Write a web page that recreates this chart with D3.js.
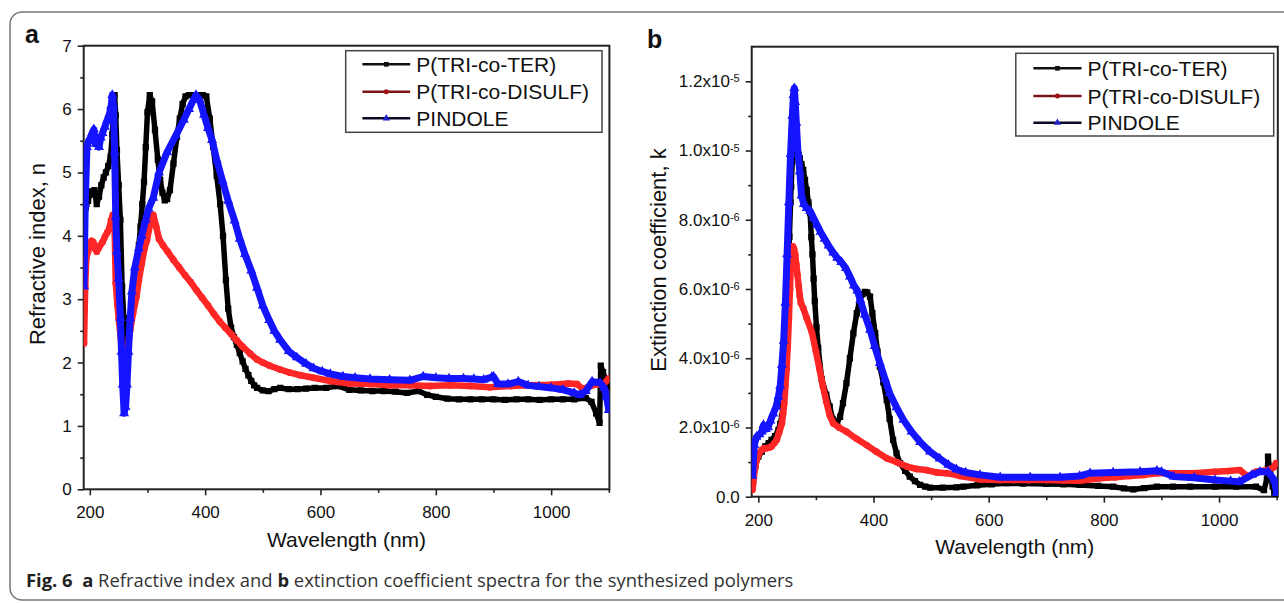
<!DOCTYPE html>
<html>
<head>
<meta charset="utf-8">
<script src="https://cdn.jsdelivr.net/npm/d3@7"></script>
<style>
  body { margin: 0; background: #fff; }
  svg text { font-family: "Liberation Sans", Arial, sans-serif; fill: #111; }
  .caption { font-family: "Open Sans", "Noto Sans", sans-serif; white-space: pre; }
</style>
</head>
<body>
<svg id="fig" width="1284" height="603"></svg>
<script>
// ---- data ----
const seriesNames = ["P(TRI-co-TER)", "P(TRI-co-DISULF)", "PINDOLE"];

// panel a: refractive index n vs wavelength (nm)
const terN = [[190,4.2],[193,4.45],[197,4.55],[200,4.7],[204,4.65],[208,4.72],[212,4.5],[216,4.62],[220,4.8],[224,4.92],[228,5.0],[232,5.1],[236,5.25],[239,5.6],[241,6.0],[243,6.22],[245,5.9],[247,5.35],[250,4.8],[253,4.25],[256,3.2],[259,2.7],[262,2.28],[265,2.45],[268,2.62],[272,2.85],[276,3.01],[279,3.25],[282,3.54],[285,3.85],[288,4.15],[291,4.5],[294,4.85],[297,5.4],[300,5.95],[304,6.22],[308,6.12],[313,5.67],[318,5.2],[322,4.88],[326,4.68],[330,4.56],[334,4.58],[339,4.72],[345,5.14],[351,5.56],[356,5.85],[361,6.08],[366,6.2],[372,6.22],[380,6.22],[388,6.22],[396,6.22],[402,6.2],[408,5.85],[414,5.4],[420,4.95],[426,4.5],[431,4.0],[436,3.3],[440,2.85],[445,2.55],[450,2.4],[455,2.28],[460,2.15],[465,2.02],[470,1.9],[475,1.8],[480,1.71],[485,1.64],[490,1.6],[500,1.56],[510,1.55],[520,1.58],[530,1.6],[545,1.58],[560,1.58],[575,1.59],[590,1.6],[610,1.6],[630,1.63],[650,1.57],[670,1.56],[690,1.55],[710,1.55],[730,1.54],[750,1.52],[770,1.55],[785,1.49],[800,1.46],[820,1.43],[840,1.42],[860,1.42],[880,1.42],[900,1.42],[920,1.41],[940,1.42],[960,1.42],[980,1.41],[1000,1.42],[1020,1.42],[1040,1.42],[1060,1.44],[1070,1.38],[1078,1.2],[1084,1.05],[1086,1.95],[1090,1.85],[1095,1.7],[1100,1.6]];
const disN = [[190,2.3],[192,3.2],[194,3.65],[197,3.75],[200,3.85],[203,3.92],[206,3.9],[209,3.8],[212,3.75],[215,3.8],[218,3.85],[222,3.9],[226,3.98],[230,4.05],[234,4.12],[237,4.25],[240,4.33],[243,4.1],[245,3.25],[248,2.9],[250,2.7],[253,2.45],[256,2.15],[259,1.95],[262,1.9],[265,2.1],[268,2.4],[270,2.51],[275,2.78],[281,3.04],[285,3.3],[290,3.56],[295,3.8],[299,3.93],[305,4.2],[310,4.33],[315,4.15],[320,3.95],[327,3.85],[335,3.75],[345,3.62],[355,3.5],[365,3.38],[375,3.27],[385,3.14],[395,3.02],[405,2.9],[415,2.77],[425,2.65],[435,2.55],[445,2.45],[455,2.35],[465,2.25],[478,2.14],[490,2.05],[500,2.0],[512,1.95],[530,1.89],[547,1.84],[565,1.8],[588,1.76],[617,1.71],[650,1.67],[686,1.66],[720,1.64],[755,1.64],[790,1.63],[825,1.64],[860,1.63],[894,1.61],[930,1.63],[960,1.64],[1000,1.65],[1030,1.67],[1045,1.66],[1055,1.58],[1065,1.62],[1080,1.66],[1090,1.65],[1100,1.75]];
const pinN = [[190,3.2],[192,4.5],[195,5.4],[198,5.5],[201,5.55],[204,5.62],[207,5.68],[210,5.45],[213,5.5],[216,5.4],[219,5.55],[222,5.62],[226,5.72],[230,5.82],[234,5.92],[237,6.05],[239,6.22],[241,6.05],[243,5.33],[245,4.3],[247,3.75],[250,3.33],[253,2.7],[255,2.17],[257,1.65],[259.5,1.2],[262,1.3],[264.5,1.65],[267,2.17],[270,2.7],[273,3.12],[278,3.5],[285,3.8],[290,4.0],[297,4.25],[302,4.43],[310,4.6],[320,5.0],[334,5.32],[349,5.58],[363,5.83],[372,6.0],[380,6.15],[384,6.22],[390,6.15],[398,5.91],[405,5.7],[412,5.51],[420,5.2],[430,4.87],[440,4.55],[451,4.24],[460,3.95],[469,3.71],[480,3.45],[490,3.18],[500,2.9],[511,2.67],[520,2.5],[530,2.36],[545,2.18],[559,2.08],[575,1.98],[588,1.91],[603,1.86],[617,1.82],[639,1.78],[660,1.76],[686,1.74],[720,1.73],[755,1.72],[778,1.78],[800,1.76],[823,1.75],[848,1.75],[866,1.74],[883,1.73],[897,1.77],[900,1.78],[908,1.66],[925,1.66],[943,1.7],[960,1.64],[979,1.62],[1000,1.6],[1021,1.57],[1040,1.52],[1050,1.49],[1060,1.55],[1071,1.7],[1085,1.68],[1092,1.6],[1096,1.46],[1100,1.25]];

// panel b: extinction coefficient k (x 1e-6) vs wavelength (nm)
const terK = [[190,0.3],[191,0.48],[195,0.9],[200,1.16],[206,1.3],[212,1.45],[218,1.55],[223,1.64],[229,1.75],[235,1.93],[238,2.1],[241,2.31],[243,2.7],[245,3.18],[247,4.0],[248,4.62],[250,5.5],[251,6.07],[253,7.0],[254,7.51],[256,8.5],[257,8.96],[259,9.7],[261,10.1],[263,10.16],[265,10.05],[267,10.0],[270,9.88],[272,9.78],[275,9.6],[278,9.44],[281,9.15],[284,8.86],[287,8.5],[290,8.19],[292,7.5],[294,7.0],[296,6.3],[298,5.65],[301,4.9],[304,4.3],[310,3.4],[318,2.95],[324,2.6],[329,2.25],[333,2.12],[337,2.15],[342,2.31],[347,2.7],[353,3.28],[359,4.0],[365,4.72],[371,5.3],[376,5.68],[381,5.85],[385,5.92],[389,5.9],[394,5.78],[398,5.3],[403,4.72],[407,4.2],[411,3.76],[417,3.3],[423,2.79],[428,2.25],[434,1.64],[440,1.25],[446,0.97],[455,0.75],[463,0.58],[472,0.45],[481,0.34],[490,0.29],[498,0.26],[520,0.26],[544,0.27],[556,0.29],[580,0.33],[605,0.36],[631,0.39],[660,0.38],[700,0.37],[730,0.36],[758,0.34],[790,0.31],[816,0.29],[835,0.24],[851,0.21],[870,0.25],[892,0.29],[920,0.29],[950,0.29],[993,0.29],[1030,0.29],[1064,0.29],[1078,0.19],[1083,0.5],[1085,1.16],[1089,0.67],[1093,0.3],[1096,0.1],[1100,0.0]];
const disK = [[190,0.2],[191,0.39],[194,0.8],[197,1.06],[201,1.25],[206,1.35],[210,1.4],[214,1.4],[219,1.42],[223,1.45],[228,1.55],[232,1.64],[236,1.85],[241,2.12],[243,2.4],[245,2.7],[247,3.2],[249,3.66],[251,4.3],[253,5.11],[255,6.0],[256,6.55],[258,7.0],[260,7.23],[262,7.15],[264,7.0],[266,6.7],[268,6.4],[270,6.1],[272,5.8],[274,5.59],[278,5.45],[284,5.16],[293,4.75],[300,4.2],[306,3.7],[312,3.2],[318,2.75],[324,2.35],[330,2.12],[340,2.0],[353,1.88],[370,1.68],[388,1.49],[405,1.3],[423,1.11],[440,1.0],[458,0.87],[475,0.8],[492,0.77],[510,0.7],[527,0.68],[550,0.6],[585,0.5],[620,0.48],[643,0.48],[670,0.48],[700,0.48],[730,0.47],[758,0.46],[793,0.53],[820,0.56],[845,0.6],[870,0.63],[892,0.68],[921,0.68],[957,0.68],[993,0.72],[1015,0.74],[1036,0.77],[1050,0.58],[1064,0.72],[1085,0.77],[1095,0.85],[1099,0.97]];
const pinK = [[190,0.6],[193,1.5],[197,1.73],[202,1.8],[206,1.88],[209,2.07],[213,1.95],[217,2.0],[221,2.2],[226,2.4],[231,2.6],[235,2.9],[238,3.2],[241,3.8],[244,4.5],[247,5.6],[250,7.0],[253,8.5],[256,9.9],[259,11.0],[261,11.6],[262.5,11.8],[264,11.4],[266,10.8],[269,9.9],[272,9.4],[275,8.7],[279,8.45],[284,8.34],[290,8.25],[296,8.05],[302,7.85],[308,7.65],[315,7.45],[322,7.25],[330,7.05],[337,6.9],[344,6.78],[352,6.6],[359,6.36],[366,6.1],[372,5.95],[377,5.68],[385,5.25],[394,4.82],[402,4.35],[411,3.86],[420,3.4],[428,2.99],[440,2.58],[452,2.22],[466,1.88],[481,1.58],[498,1.3],[515,1.1],[530,0.92],[544,0.79],[560,0.7],[585,0.63],[620,0.56],[672,0.56],[724,0.56],[758,0.6],[776,0.68],[816,0.7],[863,0.72],[892,0.75],[900,0.72],[921,0.58],[957,0.55],[993,0.48],[1020,0.45],[1035,0.43],[1057,0.63],[1071,0.72],[1085,0.72],[1096,0.48],[1100,0.1]];

// ticks and labels
const xTicks = [200, 400, 600, 800, 1000];
const xMinorTicks = [300, 500, 700, 900, 1100];
const nTicks = [0, 1, 2, 3, 4, 5, 6, 7];
const nMinorTicks = [0.5, 1.5, 2.5, 3.5, 4.5, 5.5, 6.5];
const kTicks = [0, 2, 4, 6, 8, 10, 12];
const kTickMant = ["0.0", "2.0x10", "4.0x10", "6.0x10", "8.0x10", "1.0x10", "1.2x10"];
const kTickExp = ["", "-6", "-6", "-6", "-6", "-5", "-5"];
const kMinorTicks = [1, 3, 5, 7, 9, 11];

const styles = [
  { color: "#000", legendLine: "#111", legendMark: "#111", symbol: d3.symbolSquare, size: 22, width: 5.5 },
  { color: "#ff2626", legendLine: "#7a1515", legendMark: "#a01212", symbol: d3.symbolCircle, size: 20, width: 6.5 },
  { color: "#1414ff", legendLine: "#0b0b26", legendMark: "#2222c8", symbol: d3.symbolTriangle, size: 24, width: 7 }
];

const svg = d3.select("#fig");

// outer rounded frame of the figure
svg.append("rect")
  .attr("x", 10).attr("y", 12)
  .attr("width", 1320).attr("height", 588)
  .attr("rx", 12)
  .attr("fill", "none")
  .attr("stroke", "#777")
  .attr("stroke-width", 1.5);

function drawPanel(p) {
  const x = d3.scaleLinear().domain(p.xDomain).range([p.left, p.right]);
  const y = d3.scaleLinear().domain(p.yDomain).range([p.bottom, p.top]);
  const g = svg.append("g");

  const clipId = "clip-" + p.id;
  svg.append("clipPath").attr("id", clipId)
    .append("rect")
    .attr("x", p.left).attr("y", p.top)
    .attr("width", p.right - p.left).attr("height", p.bottom - p.top);

  // x axis, major + minor
  g.append("g").attr("transform", `translate(0,${p.bottom})`)
    .call(d3.axisBottom(x).tickValues(xTicks).tickSize(6).tickSizeOuter(0).tickPadding(11)
      .tickFormat(d3.format("d")));
  g.append("g").attr("transform", `translate(0,${p.bottom})`)
    .call(d3.axisBottom(x).tickValues(xMinorTicks).tickSize(3.5).tickSizeOuter(0).tickFormat(""));

  // y axis, major + minor
  const yAxis = g.append("g").attr("transform", `translate(${p.left},0)`)
    .call(d3.axisLeft(y).tickValues(p.yTicks).tickSize(6).tickSizeOuter(0).tickPadding(6)
      .tickFormat(d3.format("d")));
  g.append("g").attr("transform", `translate(${p.left},0)`)
    .call(d3.axisLeft(y).tickValues(p.yMinor).tickSize(3.5).tickSizeOuter(0).tickFormat(""));

  g.selectAll(".domain").remove();
  g.selectAll(".tick line").attr("stroke", "#222").attr("stroke-width", 1.6);
  g.selectAll(".tick text").attr("fill", "#111").style("font-size", "17px")
    .style("font-family", '"Liberation Sans", Arial, sans-serif');

  if (p.yExp) {
    yAxis.selectAll(".tick text").each(function (d) {
      const t = d3.select(this);
      const idx = p.yTicks.indexOf(d);
      t.text(p.yMant[idx]);
      if (p.yExp[idx]) {
        t.append("tspan").attr("dy", "-0.45em").style("font-size", "11px").text(p.yExp[idx]);
      }
    });
  }

  // plot box
  g.append("rect")
    .attr("x", p.left).attr("y", p.top)
    .attr("width", p.right - p.left).attr("height", p.bottom - p.top)
    .attr("fill", "none").attr("stroke", "#222").attr("stroke-width", 2);

  // series
  const plot = g.append("g").attr("clip-path", `url(#${clipId})`);
  const line = d3.line().x(d => x(d[0])).y(d => y(d[1]));
  p.series.forEach((data, i) => {
    const s = styles[i];
    plot.append("path")
      .datum(data)
      .attr("fill", "none")
      .attr("stroke", s.color)
      .attr("stroke-width", s.width)
      .attr("stroke-linejoin", "round")
      .attr("d", line);
    plot.append("g").selectAll("path")
      .data(data)
      .join("path")
      .attr("transform", d => `translate(${x(d[0])},${y(d[1])})`)
      .attr("d", d3.symbol().type(s.symbol).size(s.size * 1.8))
      .attr("fill", s.color);
  });

  // legend
  const lg = g.append("g");
  lg.append("rect")
    .attr("x", p.legend.x0).attr("y", p.legend.y0)
    .attr("width", p.legend.x1 - p.legend.x0).attr("height", p.legend.y1 - p.legend.y0)
    .attr("fill", "#fff").attr("stroke", "#444").attr("stroke-width", 1.5);
  seriesNames.forEach((name, i) => {
    const s = styles[i];
    const ly = p.legend.rows[i];
    lg.append("line")
      .attr("x1", p.legend.lx0).attr("x2", p.legend.lx1)
      .attr("y1", ly).attr("y2", ly)
      .attr("stroke", s.legendLine).attr("stroke-width", 2.5);
    lg.append("path")
      .attr("transform", `translate(${(p.legend.lx0 + p.legend.lx1) / 2},${ly})`)
      .attr("d", d3.symbol().type(s.symbol).size(s.size))
      .attr("fill", s.legendMark);
    lg.append("text")
      .attr("x", p.legend.tx).attr("y", ly + 7.5)
      .style("font-size", "21px")
      .text(name);
  });

  // axis titles
  g.append("text")
    .attr("x", (p.left + p.right) / 2).attr("y", p.xTitleY)
    .attr("text-anchor", "middle").style("font-size", "21px")
    .text("Wavelength (nm)");
  g.append("text")
    .attr("transform", `translate(${p.yTitleX},${p.yTitleCy}) rotate(-90)`)
    .attr("text-anchor", "middle").style("font-size", "22px")
    .text(p.yTitle);

  // panel letter
  g.append("text")
    .attr("x", p.letterX).attr("y", p.letterY)
    .style("font-size", "25px").style("font-weight", "bold")
    .text(p.id);
}

drawPanel({
  id: "a",
  left: 83.7, right: 609.4, top: 45.7, bottom: 489.3,
  xDomain: [189.4, 1101], yDomain: [0, 7],
  yTicks: nTicks, yMinor: nMinorTicks,
  series: [terN, disN, pinN],
  legend: { x0: 345.7, x1: 602, y0: 50.7, y1: 132.3, rows: [64.3, 91.7, 118.3], lx0: 362.4, lx1: 410.2, tx: 416.3 },
  xTitleY: 547, yTitleX: 45, yTitleCy: 254, yTitle: "Refractive index, n",
  letterX: 25, letterY: 43
});

drawPanel({
  id: "b",
  left: 751.7, right: 1277.8, top: 46.7, bottom: 496.7,
  xDomain: [188.5, 1102], yDomain: [0, 13],
  yTicks: kTicks, yMinor: kMinorTicks, yMant: kTickMant, yExp: kTickExp,
  series: [terK, disK, pinK],
  legend: { x0: 1015.8, x1: 1273.7, y0: 53.3, y1: 136, rows: [68.3, 96, 122.7], lx0: 1033.4, lx1: 1081.5, tx: 1087.6 },
  xTitleY: 554, yTitleX: 666, yTitleCy: 260, yTitle: "Extinction coefficient, k",
  letterX: 647, letterY: 48
});

// caption
const cap = svg.append("text").attr("class", "caption")
  .attr("x", 26).attr("y", 587).style("font-size", "18.4px");
cap.append("tspan").style("font-weight", "bold").style("fill", "#222").text("Fig. 6  a");
cap.append("tspan").style("fill", "#333").text(" Refractive index and ");
cap.append("tspan").style("font-weight", "bold").style("fill", "#222").text("b");
cap.append("tspan").style("fill", "#333").text(" extinction coefficient spectra for the synthesized polymers");
</script>
</body>
</html>
